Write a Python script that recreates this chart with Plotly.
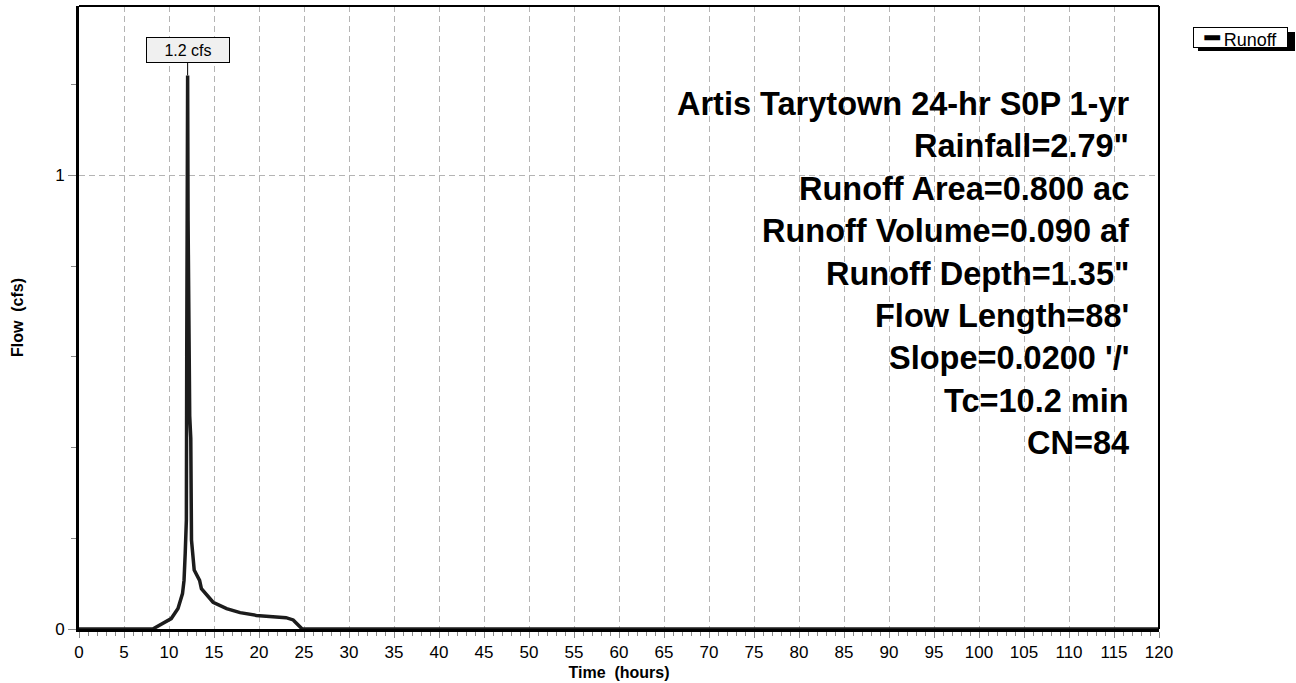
import plotly.graph_objects as go

# Runoff hydrograph (hours, cfs)
hours = [0, 8.2, 10.25, 11.0, 11.5, 11.67, 11.8, 11.93, 11.97, 12.02, 12.07, 12.12, 12.2,
         12.3, 12.42, 12.43, 12.5, 12.8, 13.4, 13.6, 14.9, 16.4, 17.9, 19.7, 21.6, 23.0,
         23.8, 24.8, 120]
flow = [0, 0, 0.023, 0.045, 0.078, 0.107, 0.166, 0.24, 0.6, 1.0, 1.22, 0.9, 0.54,
        0.47, 0.42, 0.24, 0.196, 0.13, 0.107, 0.089, 0.059, 0.045, 0.036, 0.030, 0.026, 0.025,
        0.020, 0, 0]

x_range = [0, 120]
y_range = [0, 1.373]
x_tick_step, x_minor_step = 5, 1
y_tick_step, y_minor_step = 1, 0.2

info_lines = [
    "Artis Tarytown 24-hr S0P 1-yr",
    "Rainfall=2.79\"",
    "Runoff Area=0.800 ac",
    "Runoff Volume=0.090 af",
    "Runoff Depth=1.35\"",
    "Flow Length=88'",
    "Slope=0.0200 '/'",
    "Tc=10.2 min",
    "CN=84",
]
series_name = "Runoff"

W, H = 1296, 683
L, R, T, B = 79, 137, 6, 54
PW, PH = W - L - R, H - T - B


def px_x(px):
    return (px - L) / PW


def px_y(py):
    return (H - B - py) / PH


FONT = "Liberation Sans, Arial, Helvetica, sans-serif"
GRID = "#b4b4b4"
TICK = "#8a8a8a"
CLEAR = "rgba(0,0,0,0)"

fig = go.Figure()
fig.add_trace(go.Scatter(
    x=hours, y=flow, mode="lines", name=series_name, showlegend=False,
    line=dict(color="#1c1c1c", width=3.5),
))
# carrier for the minor-tick axes (draws nothing)
fig.add_trace(go.Scatter(
    x=x_range, y=y_range, xaxis="x2", yaxis="y2", mode="markers",
    marker=dict(opacity=0), showlegend=False, hoverinfo="skip",
))

peak = max(flow)
peak_t = hours[flow.index(peak)]

annotations = [dict(
    x=peak_t, y=peak, xref="x", yref="y",
    text=f"{peak:.1f} cfs", showarrow=True, arrowhead=0, arrowwidth=1,
    arrowcolor="black", ax=0, ay=-25, standoff=0,
    bgcolor="#f0f0f0", bordercolor="black", borderwidth=1,
    width=80, height=22, font=dict(family=FONT, size=16, color="black"),
)]

for i, line in enumerate(info_lines):
    annotations.append(dict(
        x=px_x(1131), y=px_y(104 + i * 42.4), xref="paper", yref="paper",
        xanchor="right", yanchor="middle", showarrow=False,
        text=f"<b>{line}</b>", font=dict(family=FONT, size=32.5, color="black"),
    ))

# legend key: boxed line sample with series name
annotations.append(dict(
    x=px_x(1193), y=px_y(37.5), xref="paper", yref="paper",
    xanchor="left", yanchor="middle", showarrow=False,
    text=f"<span style='font-size:24px'><b>\u2501</b></span> {series_name}",
    width=91, height=17, align="center",
    bgcolor="white", bordercolor="black", borderwidth=1, borderpad=1,
    font=dict(family=FONT, size=18, color="black"),
))

shapes = [
    # top and right frame
    dict(type="line", xref="paper", yref="paper", x0=0, x1=1, y0=1, y1=1,
         line=dict(color="black", width=2)),
    dict(type="line", xref="paper", yref="paper", x0=1, x1=1, y0=0, y1=1,
         line=dict(color="black", width=2)),
    # legend drop shadow
    dict(type="rect", xref="paper", yref="paper", layer="below",
         x0=px_x(1198), x1=px_x(1295), y0=px_y(51), y1=px_y(32),
         fillcolor="black", line=dict(width=0)),
]

fig.update_layout(
    width=W, height=H,
    margin=dict(l=L, r=R, t=T, b=B, pad=0, autoexpand=False),
    paper_bgcolor="white", plot_bgcolor="white",
    font=dict(family=FONT, size=17, color="black"),
    annotations=annotations,
    shapes=shapes,
    xaxis=dict(
        range=x_range, tickmode="linear", tick0=0, dtick=x_tick_step,
        ticks="outside", ticklen=6, tickwidth=1, tickcolor=TICK,
        showgrid=True, gridcolor=GRID, gridwidth=1, griddash="6px,4px",
        showline=True, linecolor="black", linewidth=3, zeroline=False,
        title=dict(text="<b>Time  (hours)</b>", font=dict(size=16), standoff=6),
        tickfont=dict(size=17), automargin=False,
    ),
    yaxis=dict(
        range=y_range, tickmode="linear", tick0=0, dtick=y_tick_step,
        ticks="outside", ticklen=8, tickwidth=1, tickcolor=TICK,
        showgrid=True, gridcolor=GRID, gridwidth=1, griddash="6px,4px",
        showline=True, linecolor="black", linewidth=3, zeroline=False,
        title=dict(text="<b>Flow  (cfs)</b>", font=dict(size=16), standoff=28),
        tickfont=dict(size=17), automargin=False,
    ),
    # minor ticks every hour / every 0.2 cfs
    xaxis2=dict(
        overlaying="x", anchor="y2", side="bottom", range=x_range,
        tickmode="linear", tick0=0, dtick=x_minor_step, ticks="outside",
        ticklen=4, tickwidth=1, tickcolor=TICK, showticklabels=False,
        showgrid=False, zeroline=False, showline=True, linewidth=3,
        linecolor=CLEAR, automargin=False,
    ),
    yaxis2=dict(
        overlaying="y", anchor="x2", side="left", range=y_range,
        tickmode="linear", tick0=0, dtick=y_minor_step, ticks="outside",
        ticklen=5, tickwidth=1, tickcolor=TICK, showticklabels=False,
        showgrid=False, zeroline=False, showline=True, linewidth=3,
        linecolor=CLEAR, automargin=False,
    ),
)

fig.write_html("out.html")
